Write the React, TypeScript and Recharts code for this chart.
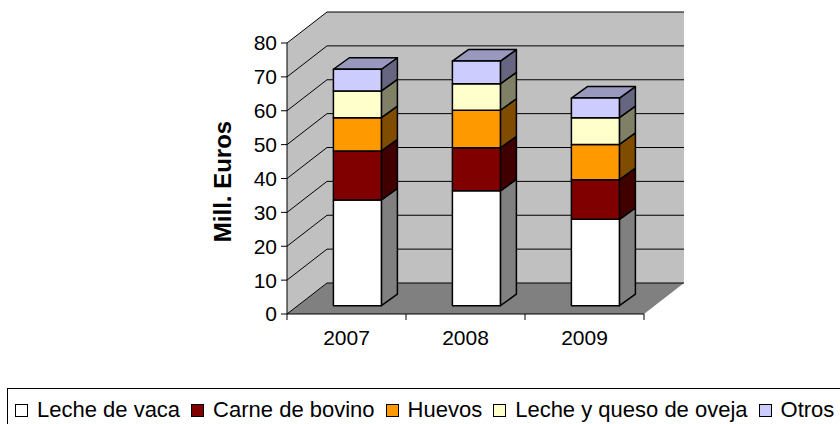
import React from 'react';
import { BarChart, Bar, XAxis, YAxis, ReferenceArea, Label } from 'recharts';

const years = ['2007', '2008', '2009'];
const lecheVaca = [31.2, 33.9, 25.5];
const carneBovino = [14.5, 12.7, 11.7];
const huevos = [9.8, 11.1, 10.4];
const lecheOveja = [7.9, 7.8, 7.9];
const otros = [6.4, 6.7, 5.8];
const yTicks = [0, 10, 20, 30, 40, 50, 60, 70, 80];

const series = [
  { key: 'lecheVaca', name: 'Leche de vaca', fill: '#FFFFFF', side: '#808080', top: '#C0C0C0', values: lecheVaca },
  { key: 'carneBovino', name: 'Carne de bovino', fill: '#800000', side: '#400000', top: '#600000', values: carneBovino },
  { key: 'huevos', name: 'Huevos', fill: '#FF9900', side: '#804D00', top: '#BF7300', values: huevos },
  { key: 'lecheOveja', name: 'Leche y queso de oveja', fill: '#FFFFCC', side: '#808066', top: '#BFBF99', values: lecheOveja },
  { key: 'otros', name: 'Otros', fill: '#CCCCFF', side: '#666680', top: '#9999C0', values: otros },
];

const data = years.map((year, i) => {
  const row: Record<string, any> = { year };
  series.forEach((s) => {
    row[s.key] = s.values[i];
  });
  return row;
});

const FONT = '"Liberation Sans", Arial, sans-serif';

// oblique depth of the floor / walls, and where the columns sit inside it
const WALL_DX = 40;
const WALL_DY = -31;
const BAR_OX = 10.7;
const BAR_OY = -8.3;
const BAR_DX = 16;
const BAR_DY = -11.5;

function Walls(props: any) {
  const { x, y, width, height } = props;
  const max = yTicks[yTicks.length - 1];
  const yBot = y + height;
  const bx = x + WALL_DX;
  const pts = (arr: number[][]) => arr.map((p) => p.join(',')).join(' ');
  return (
    <g>
      <rect x={bx} y={y + WALL_DY} width={width} height={height} fill="#C0C0C0" />
      <polygon
        points={pts([[x, y], [bx, y + WALL_DY], [bx, yBot + WALL_DY], [x, yBot]])}
        fill="#C0C0C0"
      />
      <polygon
        points={pts([[x, yBot], [x + width, yBot], [x + width + WALL_DX, yBot + WALL_DY], [bx, yBot + WALL_DY]])}
        fill="#808080"
      />
      {yTicks.map((t) => {
        const gy = yBot - (height * t) / max;
        return (
          <g key={t}>
            <line x1={x} y1={gy} x2={bx} y2={gy + WALL_DY} stroke="#000" strokeWidth={1} />
            <line x1={bx} y1={gy + WALL_DY} x2={bx + width} y2={gy + WALL_DY} stroke="#000" strokeWidth={1} />
          </g>
        );
      })}
      {[...years, ''].map((_, i) => {
        const tx = x + (width * i) / years.length;
        return <line key={i} x1={tx} y1={yBot} x2={tx} y2={yBot + 6} stroke="#000" strokeWidth={1} />;
      })}
    </g>
  );
}

function Box3D(props: any) {
  const { x, y, width, height, s, showTop } = props;
  if (width == null || height == null) return null;
  const fx = x + BAR_OX;
  const fy = y + BAR_OY;
  const w = width;
  const h = height;
  const pts = (arr: number[][]) => arr.map((p) => p.join(',')).join(' ');
  return (
    <g stroke="#000" strokeWidth={1.5} strokeLinejoin="round">
      <polygon
        points={pts([[fx + w, fy], [fx + w + BAR_DX, fy + BAR_DY], [fx + w + BAR_DX, fy + h + BAR_DY], [fx + w, fy + h]])}
        fill={s.side}
      />
      {showTop && (
        <polygon
          points={pts([[fx, fy], [fx + BAR_DX, fy + BAR_DY], [fx + w + BAR_DX, fy + BAR_DY], [fx + w, fy]])}
          fill={s.top}
        />
      )}
      <rect x={fx} y={fy} width={w} height={h} fill={s.fill} />
    </g>
  );
}

function YTitle(props: any) {
  const { viewBox } = props;
  const cx = viewBox.x + 22;
  const cy = viewBox.y + viewBox.height / 2 + 3;
  return (
    <text
      x={cx}
      y={cy}
      transform={`rotate(-90 ${cx} ${cy})`}
      textAnchor="middle"
      dominantBaseline="central"
      fontFamily={FONT}
      fontWeight="bold"
      fontSize={24}
      fill="#000"
    >
      Mill. Euros
    </text>
  );
}

export default function App() {
  return (
    <div
      style={{
        position: 'absolute',
        left: 0,
        top: 0,
        width: 840,
        height: 424,
        overflow: 'hidden',
        background: '#fff',
        fontFamily: FONT,
      }}
    >
      <BarChart
        width={840}
        height={424}
        data={data}
        margin={{ top: 43, right: 196, bottom: 80, left: 200 }}
        barCategoryGap="30%"
      >
        <ReferenceArea y1={0} y2={80} shape={(p: any) => <Walls {...p} />} zIndex={-10} />
        <XAxis
          dataKey="year"
          height={30}
          tickLine={false}
          tickMargin={10}
          axisLine={{ stroke: '#000' }}
          tick={{ fontSize: 21, fill: '#000', fontFamily: FONT }}
        />
        <YAxis
          width={87}
          domain={[0, 80]}
          ticks={yTicks}
          tickSize={6}
          tickMargin={4}
          axisLine={{ stroke: '#000' }}
          tickLine={{ stroke: '#000' }}
          tick={{ fontSize: 21, fill: '#000', fontFamily: FONT }}
        >
          <Label content={<YTitle />} />
        </YAxis>
        {series.map((s, i) => (
          <Bar
            key={s.key}
            dataKey={s.key}
            name={s.name}
            stackId="a"
            fill={s.fill}
            isAnimationActive={false}
            shape={(p: any) => <Box3D {...p} s={s} showTop={i === series.length - 1} />}
          />
        ))}
      </BarChart>
      <div
        style={{
          position: 'absolute',
          left: 7,
          top: 388,
          width: 850,
          height: 44,
          boxSizing: 'border-box',
          border: '1px solid #000',
          display: 'flex',
          alignItems: 'center',
          paddingLeft: 7,
          whiteSpace: 'nowrap',
          fontSize: 22,
          color: '#000',
        }}
      >
        {series.map((s) => (
          <span key={s.key} style={{ display: 'inline-flex', alignItems: 'center', marginRight: 11 }}>
            <span
              style={{
                display: 'inline-block',
                width: 11,
                height: 11,
                border: '1px solid #000',
                background: s.fill,
                marginRight: 9,
              }}
            />
            {s.name}
          </span>
        ))}
      </div>
    </div>
  );
}
